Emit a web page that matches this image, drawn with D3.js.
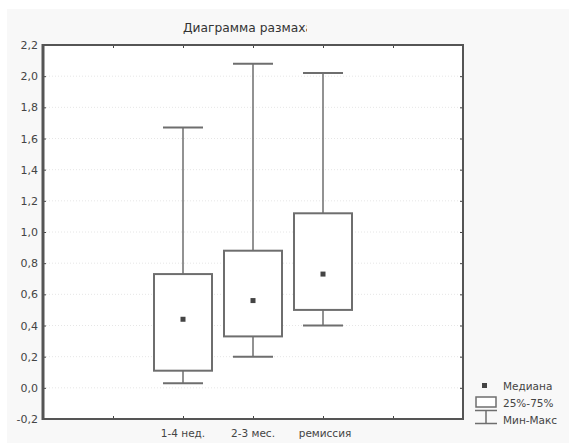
<!DOCTYPE html>
<html><head><meta charset="utf-8">
<script src="https://cdn.jsdelivr.net/npm/d3@7/dist/d3.min.js"></script>
<style>body{margin:0;background:#fff}svg{display:block;font-family:"DejaVu Sans",sans-serif}</style>
</head><body><div id="chart"></div>
<script>
const categories = ["1-4 нед.", "2-3 мес.", "ремиссия"];
const mins    = [0.03, 0.20, 0.40];
const q1s     = [0.11, 0.33, 0.50];
const medians = [0.44, 0.56, 0.73];
const q3s     = [0.73, 0.88, 1.12];
const maxs    = [1.67, 2.08, 2.02];
const yTicks = [-0.2,0,0.2,0.4,0.6,0.8,1.0,1.2,1.4,1.6,1.8,2.0,2.2];
const title = "Диаграмма размаха";
const legendLabels = ["Медиана", "25%-75%", "Мин-Макс"];

const W = 569, H = 445;
const svg = d3.select("#chart").append("svg").attr("width", W).attr("height", H);
svg.append("rect").attr("x",0).attr("y",0).attr("width",W).attr("height",H).attr("fill","#fff");
svg.append("rect").attr("x",7).attr("y",9).attr("width",W-7).attr("height",434).attr("fill","#f8f8f8");

const L = 43, R = 463, T = 45, B = 419;
svg.append("rect").attr("x",L).attr("y",T).attr("width",R-L).attr("height",B-T).attr("fill","#fff");

const y = d3.scaleLinear().domain([-0.2, 2.2]).range([B, T]);
const x = d3.scaleLinear().domain([0, 6]).range([L, R]);
const pos = categories.map((c,i) => i + 2);

// grid
svg.append("g").selectAll("line").data(yTicks.slice(1,-1)).join("line")
  .attr("x1", L).attr("x2", R).attr("y1", d=>y(d)).attr("y2", d=>y(d))
  .attr("stroke","#e6e6e6").attr("stroke-width",1).attr("stroke-dasharray","1,2");

const fmt = d => d3.format(".1f")(d).replace(".", ",").replace("−","-");
// left axis
const gl = svg.append("g").attr("transform",`translate(${L},0)`)
  .call(d3.axisLeft(y).tickValues(yTicks).tickFormat(fmt).tickSize(-3).tickPadding(5));
gl.select(".domain").remove();
gl.selectAll(".tick line").attr("stroke","#444").attr("stroke-width",1);
gl.selectAll(".tick text").attr("fill","#444").attr("font-size","11px").attr("font-family","DejaVu Sans");
// right axis ticks
const gr = svg.append("g").attr("transform",`translate(${R},0)`)
  .call(d3.axisRight(y).tickValues(yTicks).tickFormat("").tickSize(-3));
gr.select(".domain").remove();
gr.selectAll(".tick line").attr("stroke","#444");
// bottom axis
const gb = svg.append("g").attr("transform",`translate(0,${B})`)
  .call(d3.axisBottom(x).tickValues([1,2,3,4,5]).tickFormat("").tickSize(-3));
gb.select(".domain").remove();
gb.selectAll(".tick line").attr("stroke","#444");
const gt = svg.append("g").attr("transform",`translate(0,${T})`)
  .call(d3.axisTop(x).tickValues([1,2,3,4,5]).tickFormat("").tickSize(-3));
gt.select(".domain").remove();
gt.selectAll(".tick line").attr("stroke","#444");

// category labels
svg.append("g").selectAll("text").data(categories).join("text")
  .attr("x", (d,i)=>x(pos[i]) + (i===2 ? 2 : 0)).attr("y", 437).attr("text-anchor","middle")
  .attr("font-size","10.5px").attr("fill","#444").text(d=>d);

// frame
svg.append("rect").attr("x",L).attr("y",T).attr("width",R-L).attr("height",B-T)
  .attr("fill","none").attr("stroke","#555").attr("stroke-width",2);
svg.append("line").attr("x1",L).attr("x2",L).attr("y1",T-1).attr("y2",B+1).attr("stroke","#555").attr("stroke-width",3);

// boxes
const boxW = 58, capW = 40, col = "#6e6e6e";
const g = svg.append("g");
categories.forEach((c,i) => {
  const cx = x(pos[i]);
  g.append("line").attr("x1",cx).attr("x2",cx).attr("y1",y(maxs[i])).attr("y2",y(q3s[i])).attr("stroke",col).attr("stroke-width",1.5);
  g.append("line").attr("x1",cx).attr("x2",cx).attr("y1",y(q1s[i])).attr("y2",y(mins[i])).attr("stroke",col).attr("stroke-width",1.5);
  g.append("line").attr("x1",cx-capW/2).attr("x2",cx+capW/2).attr("y1",y(maxs[i])).attr("y2",y(maxs[i])).attr("stroke",col).attr("stroke-width",2);
  g.append("line").attr("x1",cx-capW/2).attr("x2",cx+capW/2).attr("y1",y(mins[i])).attr("y2",y(mins[i])).attr("stroke",col).attr("stroke-width",2);
  g.append("rect").attr("x",cx-boxW/2).attr("y",y(q3s[i])).attr("width",boxW).attr("height",y(q1s[i])-y(q3s[i]))
    .attr("fill","#fff").attr("stroke",col).attr("stroke-width",2);
  g.append("rect").attr("x",cx-2.5).attr("y",y(medians[i])-2.5).attr("width",5).attr("height",5).attr("fill","#444");
});

// title (clipped like the original)
svg.append("clipPath").attr("id","tclip").append("rect").attr("x",0).attr("y",0).attr("width",307).attr("height",45);
svg.append("text").attr("x",183).attr("y",32).attr("font-size","11.5px").attr("fill","#333")
  .attr("textLength",130).attr("lengthAdjust","spacingAndGlyphs")
  .attr("clip-path","url(#tclip)").text(title);

// legend
const lg = svg.append("g");
lg.append("rect").attr("x",482).attr("y",383).attr("width",5).attr("height",5).attr("fill","#444");
lg.append("rect").attr("x",476).attr("y",397).attr("width",20).attr("height",10).attr("fill","#fff").attr("stroke",col).attr("stroke-width",1.5);
lg.append("line").attr("x1",475).attr("x2",497).attr("y1",410.5).attr("y2",410.5).attr("stroke",col).attr("stroke-width",1.5);
lg.append("line").attr("x1",486).attr("x2",486).attr("y1",410).attr("y2",423).attr("stroke",col).attr("stroke-width",1.5);
lg.append("line").attr("x1",475).attr("x2",497).attr("y1",423.5).attr("y2",423.5).attr("stroke",col).attr("stroke-width",1.5);
lg.selectAll("text.leg").data(legendLabels).join("text").attr("class","leg")
  .attr("x",503).attr("y",(d,i)=>390 + i*17).attr("font-size","10.5px").attr("fill","#444").text(d=>d);
</script></body></html>
